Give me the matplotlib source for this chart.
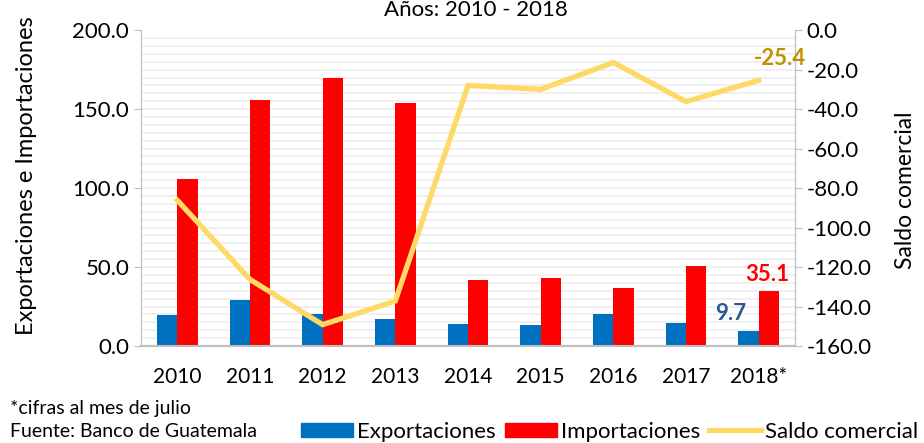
import numpy as np
import matplotlib
matplotlib.use('Agg')
import matplotlib.pyplot as plt
from matplotlib.patches import Patch
from matplotlib.lines import Line2D

plt.rcParams['font.family'] = ['Lato', 'DejaVu Sans']

# datos (millones de US$)
anios = ['2010', '2011', '2012', '2013', '2014', '2015', '2016', '2017', '2018*']
exportaciones = [19.8, 29.3, 20.2, 16.8, 13.8, 13.0, 20.4, 14.6, 9.7]
importaciones = [106.0, 155.6, 169.4, 154.0, 41.8, 43.0, 36.8, 50.8, 35.1]
saldo = [-86.2, -126.3, -149.2, -137.2, -28.0, -30.0, -16.4, -36.2, -25.4]

azul = '#0070C0'
rojo = '#FF0000'
amarillo = '#FFD966'
gris = '#BFBFBF'

fig = plt.figure(figsize=(9.24, 4.43), dpi=100)
ax = fig.add_axes([0.1526, 0.219, 0.7078, 0.713])
ax2 = ax.twinx()

x = np.arange(len(anios))
w = 0.28
ax.bar(x - w / 2, exportaciones, w, color=azul, zorder=3)
ax.bar(x + w / 2, importaciones, w, color=rojo, zorder=3)

# lineas de cuadricula cada 5 unidades
for g in np.arange(5, 200, 5):
    ax.axhline(g, color='#EDEDED', lw=1.2, zorder=0)

ax.set_xlim(-0.5, len(anios) - 0.5)
ax.set_ylim(0, 200)
ax.set_yticks(np.arange(0, 201, 50))
ax.set_yticklabels(['%.1f' % v for v in np.arange(0, 201, 50)])
ax.set_xticks(x)
ax.set_xticklabels(anios)

ax2.plot(x, saldo, color=amarillo, lw=3.8, zorder=4, solid_joinstyle='miter')
ax2.set_ylim(-160, 0)
ax2.set_yticks(np.arange(-160, 1, 20))
ax2.set_yticklabels(['%.1f' % v for v in np.arange(-160, 1, 20)])

for a in (ax, ax2):
    a.spines['top'].set_visible(False)
    a.spines['left'].set_color(gris)
    a.spines['right'].set_color(gris)
    a.spines['bottom'].set_color(gris)
    a.spines['bottom'].set_linewidth(1.5)
    a.tick_params(axis='y', colors=gris, labelcolor='black', labelsize=16, length=5)
    a.tick_params(axis='x', length=0, labelsize=15, pad=15)

ax.set_ylabel('Exportaciones e Importaciones', fontsize=17)
ax.yaxis.set_label_coords(-0.159, 0.54)
ax2.set_ylabel('Saldo comercial', fontsize=16.5)
ax2.yaxis.set_label_coords(1.153, 0.494)

# etiquetas de datos del ultimo año
ax.text(x[-1] - w / 2 - 0.03, exportaciones[-1] + 11, '%.1f' % exportaciones[-1],
        color='#2F5597', fontsize=16, fontweight='bold', ha='right', va='center')
ax.text(x[-1] + w / 2 - 0.02, importaciones[-1] + 10, '%.1f' % importaciones[-1],
        color=rojo, fontsize=16, fontweight='bold', ha='center', va='center')
ax2.text(x[-1] + 0.29, saldo[-1] + 11, '%.1f' % saldo[-1],
         color='#BF9000', fontsize=16, fontweight='bold', ha='center', va='center')

fig.text(0.515, 0.977, 'Años: 2010 - 2018', ha='center', va='center', fontsize=16)

fig.text(0.011, 0.079, '*cifras al mes de julio', fontsize=14, va='center')
fig.text(0.011, 0.025, 'Fuente: Banco de Guatemala', fontsize=14, va='center')

handles = [Patch(color=azul), Patch(color=rojo), Line2D([0], [0], color=amarillo, lw=3.8)]
fig.legend(handles, ['Exportaciones', 'Importaciones', 'Saldo comercial'],
           loc='center', bbox_to_anchor=(0.66, 0.025), ncol=3, frameon=False,
           fontsize=16, handlelength=2.35, handleheight=0.6, handletextpad=0.18,
           columnspacing=0.4, borderpad=0)

fig.savefig('out.png', dpi=100)
